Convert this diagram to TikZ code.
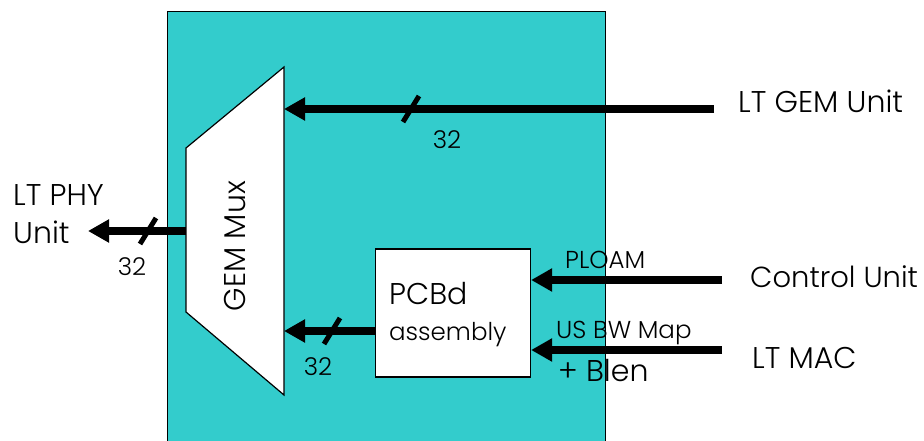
\documentclass[tikz,border=0pt]{standalone}
\usepackage{fontspec}
\setmainfont{Poppins Light}
\usetikzlibrary{arrows.meta}
\definecolor{boardfill}{RGB}{51,204,204}
\begin{document}
\begin{tikzpicture}[x=1pt,y=-1pt,
  bus/.style={line width=8pt, -{Triangle[length=21pt,width=22pt]}},
  bustick/.style={line width=5pt},
  biglabel/.style={font=\fontsize{30}{33}\selectfont, inner sep=0pt},
  smalllabel/.style={font=\fontsize{24.5}{27}\selectfont, inner sep=0pt},
  outline/.style={draw=black, line width=1.2pt}]
\useasboundingbox (0,0) rectangle (924,441);
% board
\node[outline, fill=boardfill, minimum width=438pt, minimum height=450pt,
      anchor=north west, inner sep=0pt] (board) at (167,11) {};
% mux trapezoid
\coordinate (mTL) at (186,148);
\coordinate (mTR) at (284,67);
\coordinate (mBR) at (284,395);
\coordinate (mBL) at (186,312);
\draw[outline, fill=white] (mTL) -- (mTR) -- (mBR) -- (mBL) -- cycle;
\node[biglabel, rotate=90] (muxlabel) at (235,246) {GEM Mux};
% PCBd box
\node[outline, fill=white, minimum width=155pt, minimum height=128pt, inner sep=0pt] (pcbd) at (453,313) {};
\node[biglabel, anchor=base west] (pcbdtext) at (389,304) {PCBd};
\node[smalllabel, anchor=base west] (asmtext) at (389,340) {assembly};
% connector end points
\coordinate (muxinA) at (284,109);
\coordinate (gemsrc) at (714,109);
\coordinate (muxout) at (186,231);
\coordinate (phydst) at (88,231);
\coordinate (muxinB) at (284,331);
\coordinate (ctrlsrc) at (722,280);
\coordinate (macsrc) at (722,350);
% buses
\draw[bus] (gemsrc) -- (muxinA);
\draw[bustick] (411,109) +(-8,13) -- +(8,-13);
\node[smalllabel] (n32a) at (447,140) {32};
\draw[bus] (muxout) -- (phydst);
\draw[bustick] (148,231) +(-8,13) -- +(8,-13);
\node[smalllabel] (n32b) at (132,267) {32};
\draw[bus] (pcbd.west |- muxinB) -- (muxinB);
\draw[bustick] (332,331) +(-8,13) -- +(8,-13);
\node[smalllabel] (n32c) at (318,367) {32};
\draw[bus] (ctrlsrc) -- (pcbd.east |- ctrlsrc);
\draw[bus] (macsrc) -- (pcbd.east |- macsrc);
% labels
\node[biglabel, anchor=base west] (gemunit) at (738,113) {LT GEM Unit};
\node[biglabel, anchor=base west, font=\fontsize{29}{32}\selectfont] (ctrlunit) at (750,287) {Control Unit};
\node[biglabel, anchor=base west] (ltmac) at (752,368) {LT MAC};
\node[biglabel, anchor=base west] (phy1) at (13,205) {LT PHY};
\node[biglabel, anchor=base west] (phy2) at (13,243) {Unit};
\node[smalllabel, anchor=base west] (ploam) at (565,268) {PLOAM};
\node[smalllabel, anchor=base west] (usbw) at (556,338) {US BW Map};
\node[biglabel, anchor=base west] (blen) at (558,381) {+ Blen};
\end{tikzpicture}
\end{document}
